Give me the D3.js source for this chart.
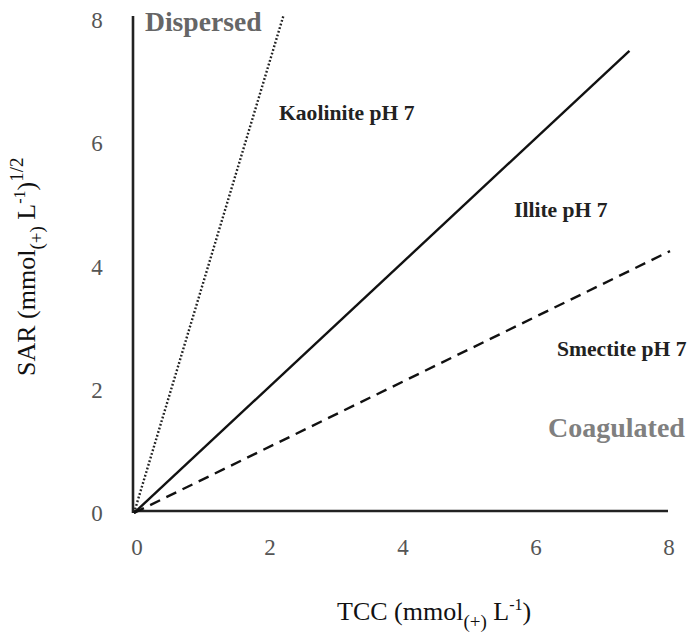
<!DOCTYPE html>
<html>
<head>
<meta charset="utf-8">
<script src="https://cdn.jsdelivr.net/npm/d3@7"></script>
<style>
  html, body { margin: 0; padding: 0; background: #fff; }
  svg { display: block; }
  text { font-family: "Liberation Serif", "DejaVu Serif", serif; }
</style>
</head>
<body>
<script>
// Axis ticks
const xTicks = [0, 2, 4, 6, 8];
const yTicks = [0, 2, 4, 6, 8];

// Flocculation boundary lines (start and end points, TCC vs SAR)
const kaoliniteLine = [[0, 0], [2.25, 8.08]];
const illiteLine = [[0, 0], [7.45, 7.5]];
const smectiteLine = [[0, 0], [8.06, 4.25]];

const lineLabels = ["Kaolinite pH 7", "Illite pH 7", "Smectite pH 7"];
const regionLabels = ["Dispersed", "Coagulated"];

const W = 692, H = 634;
const svg = d3.select("body").append("svg").attr("width", W).attr("height", H);

const x = d3.scaleLinear().domain([0, 8]).range([134, 666]);
const y = d3.scaleLinear().domain([0, 8]).range([513, 20]);

// Axis lines
svg.append("line").attr("x1", 133).attr("x2", 133).attr("y1", 16).attr("y2", 513)
  .attr("stroke", "#222").attr("stroke-width", 2.6);
svg.append("line").attr("x1", 133).attr("x2", 668).attr("y1", 511).attr("y2", 511)
  .attr("stroke", "#222").attr("stroke-width", 2.6);

// Tick labels
svg.selectAll(".xt").data(xTicks).enter().append("text")
  .attr("x", d => x(d) + 3).attr("y", 555)
  .attr("text-anchor", "middle").attr("font-size", 23).attr("fill", "#555")
  .text(d => d);
svg.selectAll(".yt").data(yTicks).enter().append("text")
  .attr("x", 97).attr("y", d => y(d) + 8)
  .attr("text-anchor", "middle").attr("font-size", 23).attr("fill", "#555")
  .text(d => d);

// Boundary lines
const line = d3.line().x(d => x(d[0])).y(d => y(d[1]));
svg.append("path").datum(kaoliniteLine).attr("d", line)
  .attr("fill", "none").attr("stroke", "#222").attr("stroke-width", 2.4)
  .attr("stroke-dasharray", "1.8,2");
svg.append("path").datum(illiteLine).attr("d", line)
  .attr("fill", "none").attr("stroke", "#111").attr("stroke-width", 2.4);
svg.append("path").datum(smectiteLine).attr("d", line)
  .attr("fill", "none").attr("stroke", "#111").attr("stroke-width", 2.4)
  .attr("stroke-dasharray", "11,7");

// Line labels
const lbl = [
  { t: lineLabels[0], x: 279, y: 120 },
  { t: lineLabels[1], x: 514, y: 217 },
  { t: lineLabels[2], x: 557, y: 356 }
];
svg.selectAll(".ll").data(lbl).enter().append("text")
  .attr("x", d => d.x).attr("y", d => d.y)
  .attr("font-size", 21.6).attr("font-weight", "bold").attr("fill", "#222")
  .text(d => d.t);

// Region labels
svg.append("text").attr("x", 145).attr("y", 31)
  .attr("font-size", 27.6).attr("font-weight", "bold").attr("fill", "#666")
  .text(regionLabels[0]);
svg.append("text").attr("x", 548).attr("y", 437)
  .attr("font-size", 28).attr("font-weight", "bold").attr("fill", "#808080")
  .text(regionLabels[1]);

// X axis title
const xt = svg.append("text").attr("x", 337).attr("y", 620)
  .attr("font-size", 26).attr("fill", "#111");
xt.append("tspan").text("TCC (mmol");
xt.append("tspan").attr("font-size", 19).attr("dy", 8).text("(+)");
xt.append("tspan").attr("dy", -8).text(" L");
xt.append("tspan").attr("font-size", 16).attr("dy", -10).text("-1");
xt.append("tspan").attr("dy", 10).text(")");

// Y axis title
const yt = svg.append("text")
  .attr("transform", "translate(35,376) rotate(-90)")
  .attr("font-size", 26).attr("fill", "#111");
yt.append("tspan").text("SAR (mmol");
yt.append("tspan").attr("font-size", 19).attr("dy", 8).text("(+)");
yt.append("tspan").attr("dy", -8).text(" L");
yt.append("tspan").attr("font-size", 16).attr("dy", -10).text("-1");
yt.append("tspan").attr("dy", 10).text(")");
yt.append("tspan").attr("font-size", 19).attr("dy", -12).text("1/2");
</script>
</body>
</html>
